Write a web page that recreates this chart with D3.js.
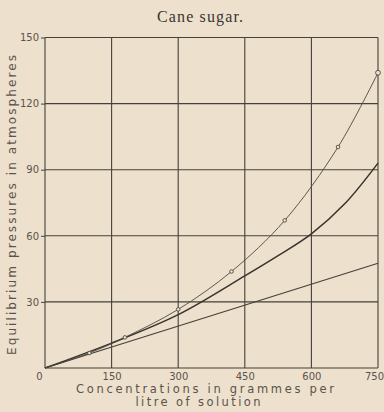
<!DOCTYPE html>
<html>
<head>
<meta charset="utf-8">
<script src="https://cdn.jsdelivr.net/npm/d3@7/dist/d3.min.js"></script>
<style>
  html, body { margin: 0; padding: 0; background: #ede0cc; }
  svg { display: block; }
  .tick text { font-family: "DejaVu Sans", sans-serif; fill: #5a544d; }
</style>
</head>
<body>
<div id="chart"></div>
<script>
// tick values on both axes
const xTicks = [0, 150, 300, 450, 600, 750];
const yTicks = [30, 60, 90, 120, 150];

// observed pressures (thin curve with small circles)
const obsConc = [0, 100, 180, 300, 420, 540, 660, 750];
const obsPress = [0, 6.8, 13.9, 26.6, 43.8, 67, 100.3, 134];
const obsMarked = [100, 180, 300, 420, 540, 660, 750];

// middle (heavier) curve
const midConc = [0, 150, 300, 450, 525, 600, 675, 750];
const midPress = [0, 11.3, 24.2, 41.8, 51, 60.9, 74.5, 93];

// straight line from origin
const lineConc = [0, 750];
const linePress = [0, 47.5];

const W = 384, H = 412;
const plotL = 45, plotR = 378, plotT = 37.5, plotB = 368;

const svg = d3.select("#chart").append("svg")
  .attr("width", W)
  .attr("height", H);

const x = d3.scaleLinear().domain([0, 750]).range([plotL, plotR]);
const y = d3.scaleLinear().domain([0, 150]).range([plotB, plotT]);

const ink = "#45403a";

// grid lines
svg.append("g").selectAll("line")
  .data(xTicks)
  .join("line")
  .attr("x1", d => x(d)).attr("x2", d => x(d))
  .attr("y1", plotT).attr("y2", plotB)
  .attr("stroke", ink).attr("stroke-width", 1.1);

svg.append("g").selectAll("line")
  .data([0].concat(yTicks))
  .join("line")
  .attr("x1", plotL).attr("x2", plotR)
  .attr("y1", d => y(d)).attr("y2", d => y(d))
  .attr("stroke", ink).attr("stroke-width", 1.1);

// y axis labels with short outer ticks
const yAxis = d3.axisLeft(y).tickValues(yTicks).tickSize(4).tickPadding(2);
const gy = svg.append("g").attr("transform", "translate(" + plotL + ",0)").call(yAxis);
gy.select(".domain").remove();
gy.selectAll(".tick line").attr("stroke", ink);
gy.selectAll(".tick text").attr("font-size", 10);

// x axis labels
const xAxis = d3.axisBottom(x).tickValues(xTicks).tickSize(0).tickPadding(5);
const gx = svg.append("g").attr("transform", "translate(0," + plotB + ")").call(xAxis);
gx.select(".domain").remove();
gx.selectAll(".tick text")
  .attr("font-size", 10)
  .attr("dx", d => d === 0 ? -6 : (d === 750 ? -4 : 0));

// curves
const curveLine = (xs, ys, curve) => d3.line()
  .x((d, i) => x(xs[i]))
  .y((d, i) => y(ys[i]))
  .curve(curve)(xs);

svg.append("path")
  .attr("d", curveLine(lineConc, linePress, d3.curveLinear))
  .attr("fill", "none").attr("stroke", ink).attr("stroke-width", 1.1);

svg.append("path")
  .attr("d", curveLine(midConc, midPress, d3.curveCatmullRom))
  .attr("fill", "none").attr("stroke", "#38332e").attr("stroke-width", 1.5);

svg.append("path")
  .attr("d", curveLine(obsConc, obsPress, d3.curveCatmullRom))
  .attr("fill", "none").attr("stroke", "#4d4842").attr("stroke-width", 0.9);

svg.append("g").selectAll("circle")
  .data(obsMarked)
  .join("circle")
  .attr("cx", d => x(d))
  .attr("cy", d => y(obsPress[obsConc.indexOf(d)]))
  .attr("r", d => d === 750 ? 2.4 : 1.8)
  .attr("fill", "#ede0cc")
  .attr("stroke", "#4d4842")
  .attr("stroke-width", 0.9);

// titles
svg.append("text")
  .attr("x", 200).attr("y", 22)
  .attr("text-anchor", "middle")
  .attr("font-family", "Liberation Serif, serif")
  .attr("font-size", 16)
  .attr("fill", "#3a3530")
  .attr("textLength", 86)
  .text("Cane sugar.");

svg.append("text")
  .attr("transform", "translate(16,205) rotate(-90)")
  .attr("text-anchor", "middle")
  .attr("font-family", "DejaVu Sans, sans-serif")
  .attr("font-size", 12)
  .attr("fill", "#5a544d")
  .attr("textLength", 300)
  .attr("lengthAdjust", "spacing")
  .text("Equilibrium pressures in atmospheres");

svg.append("text")
  .attr("x", 205).attr("y", 393)
  .attr("text-anchor", "middle")
  .attr("font-family", "DejaVu Sans, sans-serif")
  .attr("font-size", 11.5)
  .attr("fill", "#5a544d")
  .attr("textLength", 258)
  .attr("lengthAdjust", "spacing")
  .text("Concentrations in grammes per");

svg.append("text")
  .attr("x", 198).attr("y", 406)
  .attr("text-anchor", "middle")
  .attr("font-family", "DejaVu Sans, sans-serif")
  .attr("font-size", 11.5)
  .attr("fill", "#5a544d")
  .attr("textLength", 125)
  .attr("lengthAdjust", "spacing")
  .text("litre of solution");
</script>
</body>
</html>
